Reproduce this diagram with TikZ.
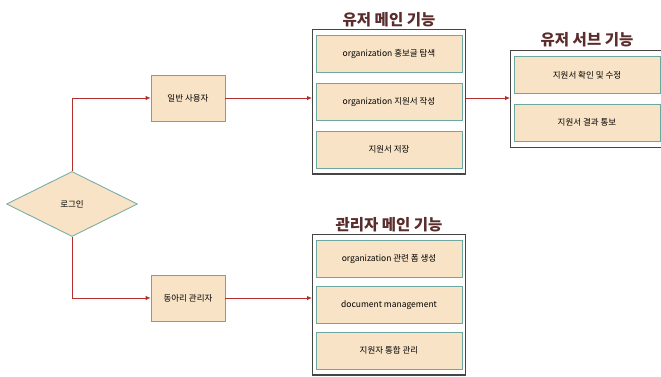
\documentclass[tikz,border=0pt]{standalone}
\usepackage{fontspec}
\setmainfont{Noto Sans CJK KR}
\usetikzlibrary{positioning,shapes.geometric,arrows.meta,fit}
\definecolor{boxfill}{HTML}{F8E3C6}
\definecolor{boxline}{HTML}{6DA8A0}
\definecolor{arrowred}{HTML}{B3302E}
\definecolor{titlebrown}{HTML}{5B2C2C}
\definecolor{frameline}{HTML}{454545}

\begin{document}
\begin{tikzpicture}[x=1pt,y=-1pt,
    item/.style={rectangle,draw=boxline,fill=boxfill,line width=0.8pt,
      minimum width=146pt,minimum height=37pt,inner sep=0pt,
      font=\fontsize{8.5}{9}\selectfont},
    role/.style={item,minimum width=74pt,minimum height=46pt},
    frame/.style={rectangle,draw=frameline,line width=1.2pt,
      inner xsep=3pt,inner ysep=5.5pt},
    title/.style={font=\fontsize{15.5}{17}\selectfont\bfseries,text=titlebrown,
      inner sep=1pt},
    link/.style={draw=arrowred,line width=0.8pt,
      -{Latex[length=5pt,width=4.5pt]}}]
    \useasboundingbox (0,0) rectangle (661,376);

    % login and roles
    \node[diamond,draw=boxline,fill=boxfill,line width=0.8pt,aspect=2,
      minimum width=131pt,minimum height=65pt,inner sep=0pt,
      font=\fontsize{8.5}{9}\selectfont](login) at (72,204) {로그인};
    \node[role](user) at (188,98) {일반 사용자};
    \node[role](admin) at (188,298) {동아리 관리자};

    % user main
    \node[item](usermainA) at (389,54) {organization 홍보글 탐색};
    \node[item,below=10pt of usermainA](usermainB) {organization 지원서 작성};
    \node[item,below=10pt of usermainB](usermainC) {지원서 저장};
    \node[frame,fit=(usermainA)(usermainC)](usermain) {};
    \node[title,above=1pt of usermain](usermaintitle) {유저 메인 기능};

    % user sub
    \node[item](usersubA) at (587,75) {지원서 확인 및 수정};
    \node[item,below=10pt of usersubA](usersubB) {지원서 결과 통보};
    \node[frame,fit=(usersubA)(usersubB)](usersub) {};
    \node[title,above=2pt of usersub](usersubtitle) {유저 서브 기능};

    % admin main
    \node[item](adminmainA) at (389,259) {organization 관련 폼 생성};
    \node[item,below=8pt of adminmainA](adminmainB) {document management};
    \node[item,below=8pt of adminmainB](adminmainC) {지원자 통합 관리};
    \node[frame,fit=(adminmainA)(adminmainC)](adminmain) {};
    \node[title,above=1pt of adminmain](adminmaintitle) {관리자 메인 기능};

    % connectors
    \draw[link] (login.north) |- (user.west);
    \draw[link] (login.south) |- (admin.west);
    \draw[link] (user.east) -- (user.east -| usermain.west);
    \draw[link] (usermain.east |- user.east) -- (usersub.west |- user.east);
    \draw[link] (admin.east) -- (admin.east -| adminmain.west);
\end{tikzpicture}
\end{document}
